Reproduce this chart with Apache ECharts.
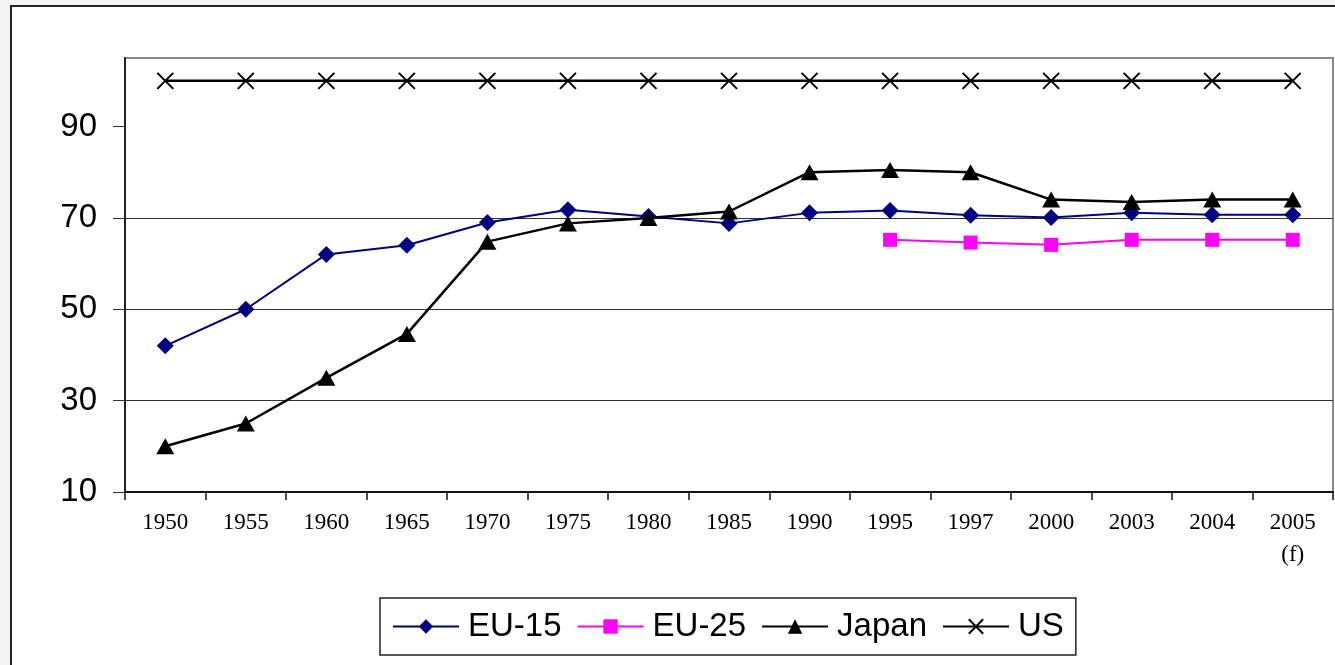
<!DOCTYPE html>
<html>
<head>
<meta charset="utf-8">
<script src="https://cdn.jsdelivr.net/npm/echarts@6/dist/echarts.min.js"></script>
<style>
  html, body { margin: 0; padding: 0; background: #f4f4f4; }
  #chart { width: 1335px; height: 665px; }
</style>
</head>
<body>
<div id="chart"></div>
<script>
// Years on the horizontal axis (2005 is a forecast)
const years = ['1950', '1955', '1960', '1965', '1970', '1975', '1980', '1985', '1990', '1995', '1997', '2000', '2003', '2004', '2005\n(f)'];

// Index values per region (US = 100)
const eu15 = [42, 50, 62, 64, 69, 71.8, 70.3, 68.8, 71.1, 71.6, 70.6, 70.1, 71.1, 70.7, 70.7];
const eu25 = [null, null, null, null, null, null, null, null, null, 65.2, 64.6, 64.1, 65.2, 65.2, 65.2];
const japan = [20, 25, 35, 44.6, 64.8, 68.8, 70, 71.4, 80, 80.5, 80, 74, 73.5, 74, 74];
const us = [100, 100, 100, 100, 100, 100, 100, 100, 100, 100, 100, 100, 100, 100, 100];

// Y axis scale and its labelled ticks
const yMin = 10, yMax = 105, yStep = 20;
const yTicks = [10, 30, 50, 70, 90];

const crossSymbol = 'path://M0,0L10,10M10,0L0,10';

const chart = echarts.init(document.getElementById('chart'), null, { renderer: 'canvas' });

chart.setOption({
  backgroundColor: '#f4f4f4',
  animation: false,
  graphic: [{
    type: 'rect',
    z: -10,
    silent: true,
    shape: { x: 11, y: 6, width: 1400, height: 720 },
    style: { fill: '#ffffff', stroke: '#222222', lineWidth: 2 }
  }],
  grid: {
    left: 125, top: 58, right: 2, bottom: 173,
    show: true, borderColor: '#8a8a8a', borderWidth: 2, backgroundColor: 'transparent'
  },
  legend: {
    left: 380, top: 598,
    padding: [12, 12, 12, 12],
    borderColor: '#222', borderWidth: 1.5,
    backgroundColor: '#fff',
    itemWidth: 66, itemHeight: 18, itemGap: 15,
    textStyle: { fontFamily: 'Liberation Sans, Arial, sans-serif', fontSize: 33, color: '#000', padding: [4, 0, 0, 4] },
    data: ['EU-15', 'EU-25', 'Japan', 'US']
  },
  xAxis: {
    type: 'category',
    data: years,
    boundaryGap: true,
    axisLine: { lineStyle: { color: '#111', width: 2 } },
    axisTick: { show: true, length: 8, alignWithLabel: false, lineStyle: { color: '#111', width: 1.5 } },
    axisLabel: {
      margin: 15,
      fontFamily: 'Liberation Serif, Times New Roman, serif',
      fontSize: 23, color: '#000', lineHeight: 32,
      interval: 0
    },
    splitLine: { show: false }
  },
  yAxis: {
    type: 'value',
    min: yMin, max: yMax, interval: yStep,
    axisLine: { show: true, lineStyle: { color: '#222', width: 2 } },
    axisTick: { show: true, length: 12, customValues: yTicks, lineStyle: { color: '#333', width: 1 } },
    axisLabel: {
      margin: 28,
      fontFamily: 'Liberation Sans, Arial, sans-serif',
      fontSize: 33, color: '#000',
      customValues: yTicks
    },
    splitLine: { show: true, showMaxLine: false, lineStyle: { color: '#333', width: 1 } }
  },
  series: [
    {
      name: 'EU-15', type: 'line', data: eu15,
      symbol: 'diamond', symbolSize: [17, 17],
      lineStyle: { color: '#000080', width: 2 },
      itemStyle: { color: '#000080' },
      z: 3
    },
    {
      name: 'EU-25', type: 'line', data: eu25,
      symbol: 'rect', symbolSize: 14,
      lineStyle: { color: '#ff00ff', width: 2 },
      itemStyle: { color: '#ff00ff' },
      z: 3
    },
    {
      name: 'Japan', type: 'line', data: japan,
      symbol: 'triangle', symbolSize: [18, 16],
      lineStyle: { color: '#000', width: 2.5 },
      itemStyle: { color: '#000' },
      z: 4
    },
    {
      name: 'US', type: 'line', data: us,
      symbol: crossSymbol, symbolSize: 16,
      lineStyle: { color: '#000', width: 2.5 },
      itemStyle: { color: '#000', borderColor: '#000', borderWidth: 2 },
      z: 4
    }
  ]
});
</script>
</body>
</html>
